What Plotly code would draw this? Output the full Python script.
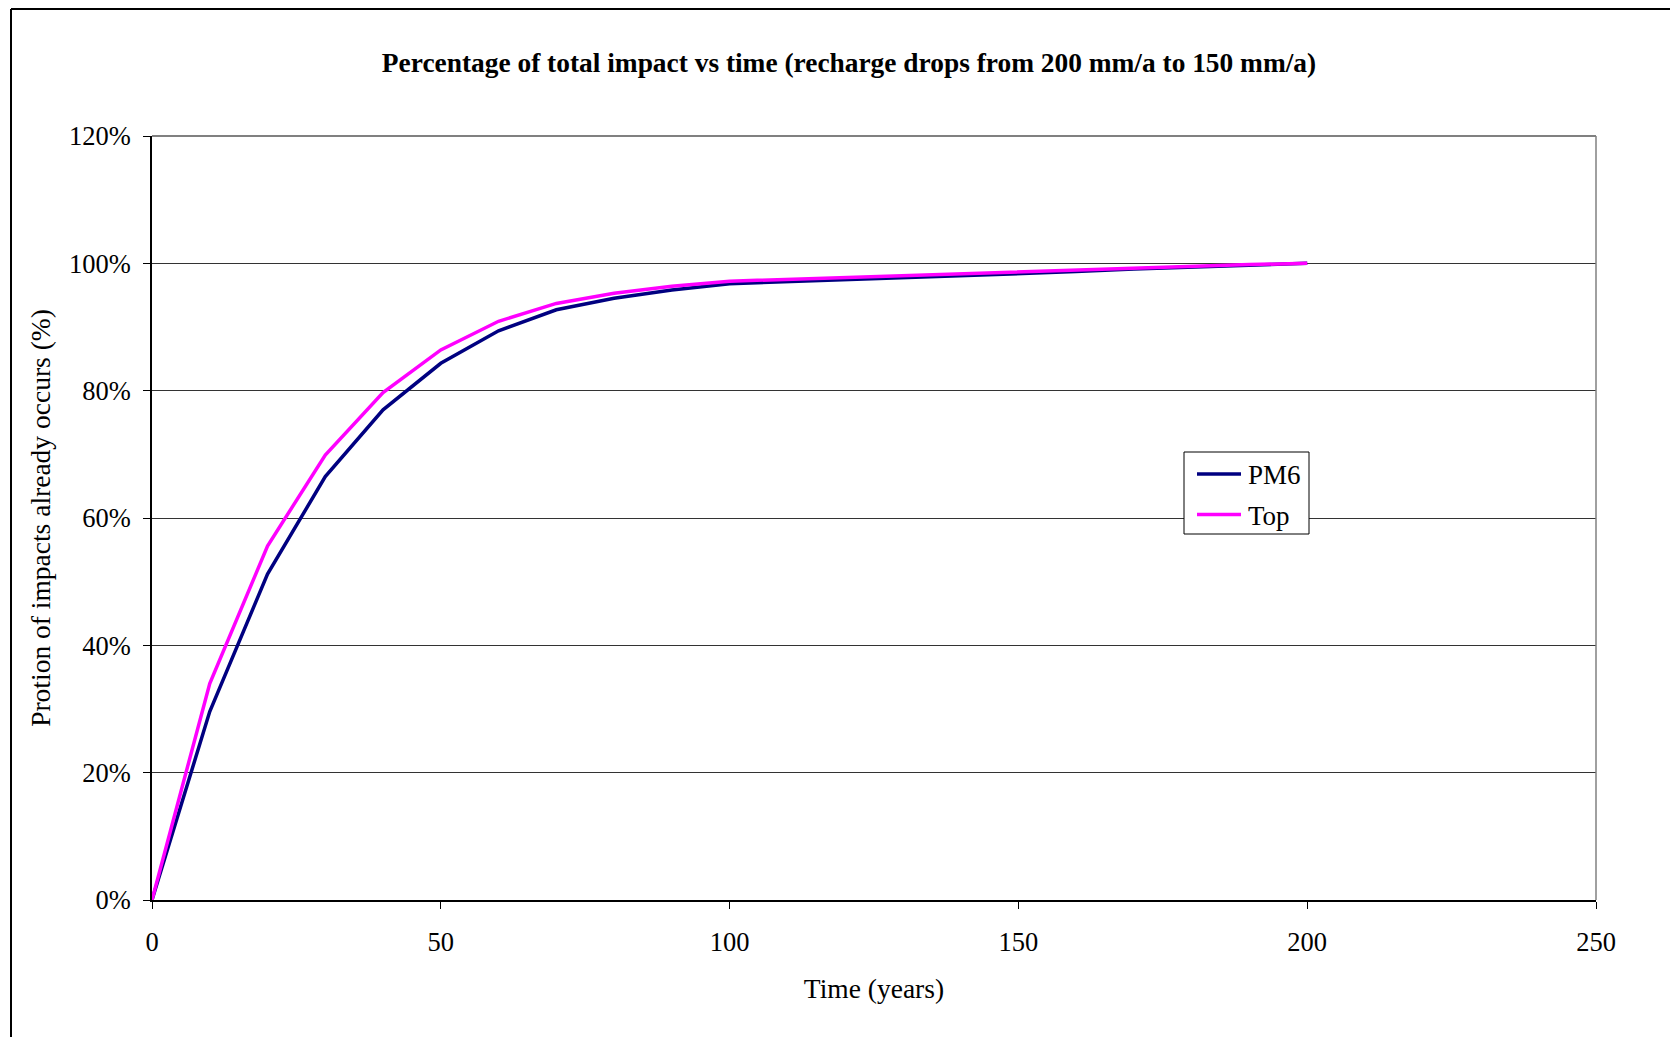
import plotly.graph_objects as go

years = [0, 10, 20, 30, 40, 50, 60, 70, 80, 90, 100, 110, 120, 130, 140, 150, 160, 170, 180, 190, 200]
pm6 = [0, 29.6, 51.2, 66.5, 77.0, 84.3, 89.4, 92.7, 94.5, 95.8, 96.8, 97.1, 97.4, 97.7, 98.0, 98.4, 98.7, 99.1, 99.4, 99.7, 100]
top = [0, 34.0, 55.6, 69.9, 79.7, 86.4, 90.9, 93.7, 95.3, 96.4, 97.2, 97.5, 97.8, 98.1, 98.4, 98.7, 99.0, 99.3, 99.5, 99.8, 100]

series_names = ["PM6", "Top"]
series_colors = ["#000080", "#FF00FF"]
title_text = "Percentage of total impact vs time (recharge drops from 200 mm/a to 150 mm/a)"
x_title = "Time (years)"
y_title = "Protion of impacts already occurs (%)"
y_ticks = [0, 20, 40, 60, 80, 100, 120]
y_ticklabels = ["0%", "20%", "40%", "60%", "80%", "100%", "120%"]
x_ticks = [0, 50, 100, 150, 200, 250]

FONT = "Liberation Serif, Times New Roman, serif"

fig = go.Figure()
for name, ys, col in zip(series_names, [pm6, top], series_colors):
    fig.add_trace(go.Scatter(x=years, y=ys, mode="lines", name=name,
                             line=dict(color=col, width=3.5), showlegend=False))

W, H = 1670, 1037
L, R, T, B = 152, 1596, 136, 900

def px_x(px):
    return (px - L) / (R - L)

def px_y(py):
    return (B - py) / (B - T)

fig.update_layout(
    width=W, height=H,
    margin=dict(l=L, r=W - R, t=T, b=H - B, pad=0),
    paper_bgcolor="white", plot_bgcolor="white",
    font=dict(family=FONT, size=26.5, color="black"),
    title=dict(text="<b>" + title_text + "</b>", x=849 / W, xanchor="center",
               y=1 - 62 / H, yanchor="middle", xref="container", yref="container",
               font=dict(family=FONT, size=27.4, color="black")),
    showlegend=False,
    xaxis=dict(range=[0, 250], tickvals=x_ticks, ticks="outside", ticklen=7,
               tickcolor="black", showline=True, linecolor="black", linewidth=1.5,
               showgrid=False, zeroline=False, ticklabelstandoff=10,
               tickfont=dict(family=FONT, size=26.5, color="black"),
               title=dict(text=x_title, standoff=23,
                          font=dict(family=FONT, size=27.5, color="black"))),
    yaxis=dict(range=[0, 120], tickmode="array", tickvals=y_ticks, ticktext=y_ticklabels,
               ticks="outside", ticklen=7, tickcolor="black", showline=True,
               linecolor="black", linewidth=1.5, showgrid=True, gridcolor="#333333",
               gridwidth=1, zeroline=False, ticklabelstandoff=7,
               tickfont=dict(family=FONT, size=26.5, color="black"),
               title=dict(text=y_title, standoff=10,
                          font=dict(family=FONT, size=27.5, color="black"))),
)

# plot-area border (top & right) in gray
fig.add_shape(type="line", xref="paper", yref="paper", x0=0, x1=1, y0=1, y1=1,
              line=dict(color="#808080", width=2))
fig.add_shape(type="line", xref="paper", yref="paper", x0=1, x1=1, y0=0, y1=1,
              line=dict(color="#808080", width=1.5))
# outer chart frame (left and top visible)
fig.add_shape(type="line", xref="paper", yref="paper", x0=px_x(11), x1=px_x(W + 5),
              y0=px_y(9), y1=px_y(9), line=dict(color="black", width=2))
fig.add_shape(type="line", xref="paper", yref="paper", x0=px_x(11), x1=px_x(11),
              y0=px_y(9), y1=px_y(H + 5), line=dict(color="black", width=2))

# legend box drawn manually
fig.add_shape(type="rect", xref="paper", yref="paper",
              x0=px_x(1184), x1=px_x(1309), y0=px_y(534), y1=px_y(452),
              line=dict(color="black", width=1), fillcolor="white", layer="above")
for i, (name, col) in enumerate(zip(series_names, series_colors)):
    yy = 474 + i * 40.5
    fig.add_shape(type="line", xref="paper", yref="paper",
                  x0=px_x(1197), x1=px_x(1241), y0=px_y(yy), y1=px_y(yy),
                  line=dict(color=col, width=3.5), layer="above")
    fig.add_annotation(xref="paper", yref="paper", x=px_x(1246), y=px_y(yy + 1),
                       xanchor="left", yanchor="middle", text=name, showarrow=False,
                       font=dict(family=FONT, size=27, color="black"))

fig.write_html("out.html", config={"displayModeBar": False},
               post_script="document.body.style.margin='0';document.body.style.overflow='hidden';")
